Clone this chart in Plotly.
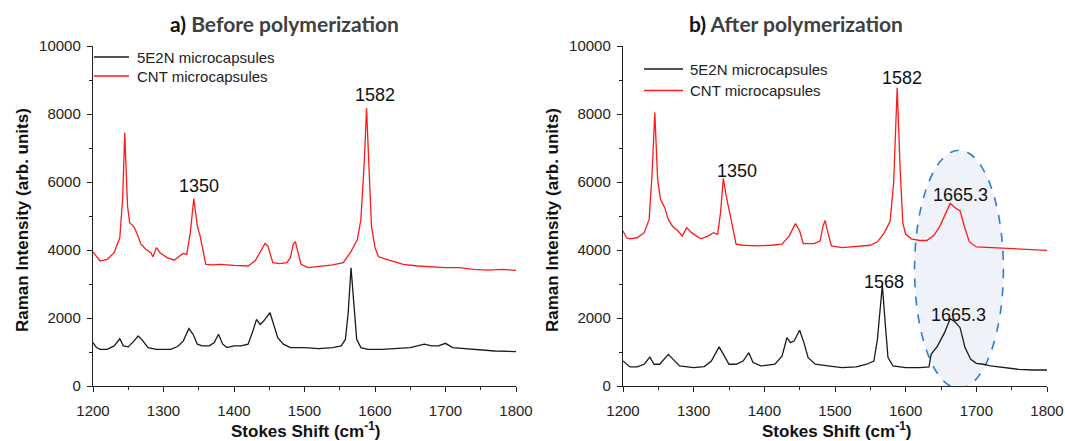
import plotly.graph_objects as go

# ---------------- data ----------------
# Panel a) Before polymerization
a_cnt_x = [1200, 1210, 1220, 1230, 1238, 1242, 1245, 1249, 1252, 1258, 1262, 1268, 1275, 1282, 1285,
           1290, 1295, 1305, 1315, 1322, 1328, 1333, 1338, 1343, 1348, 1352, 1356, 1360, 1370, 1380,
           1400, 1420, 1430, 1437, 1444, 1448, 1455, 1465, 1475, 1480, 1484, 1487, 1491, 1495, 1505,
           1520, 1540, 1555, 1565, 1575, 1580, 1585, 1588, 1591, 1595, 1600, 1605, 1620, 1640, 1660,
           1680, 1700, 1720, 1740, 1760, 1780, 1800]
a_cnt_y = [3941, 3676, 3725, 3920, 4360, 5490, 7450, 5290, 4800, 4680, 4510, 4170, 4020, 3920, 3800,
           4070, 3920, 3775, 3700, 3820, 3900, 3870, 4510, 5510, 4700, 4410, 4020, 3580, 3560, 3580,
           3550, 3530, 3680, 3920, 4190, 4120, 3630, 3600, 3630, 3775, 4170, 4245, 3920, 3580, 3480,
           3510, 3560, 3630, 3920, 4310, 4900, 6670, 8170, 6670, 4700, 4070, 3800, 3700, 3580, 3530,
           3500, 3480, 3480, 3430, 3410, 3430, 3400]

a_5e2n_x = [1200, 1205, 1210, 1220, 1230, 1238, 1243, 1250, 1258, 1264, 1270, 1278, 1290, 1310, 1320,
            1328, 1336, 1342, 1348, 1355, 1365, 1372, 1378, 1384, 1390, 1400, 1410, 1420, 1426, 1432,
            1437, 1442, 1451, 1457, 1462, 1470, 1480, 1500, 1520, 1540, 1552, 1558, 1562, 1566, 1570,
            1574, 1580, 1590, 1610, 1630, 1650, 1670, 1680, 1690, 1700, 1710, 1730, 1750, 1770, 1800]
a_5e2n_y = [1275, 1130, 1080, 1080, 1180, 1390, 1180, 1150, 1320, 1470, 1350, 1130, 1080, 1080, 1160,
            1320, 1690, 1520, 1230, 1180, 1180, 1275, 1520, 1230, 1130, 1180, 1180, 1230, 1570, 1960,
            1810, 1910, 2160, 1720, 1420, 1230, 1130, 1130, 1100, 1130, 1180, 1370, 2160, 3480, 2350,
            1370, 1130, 1080, 1080, 1100, 1130, 1230, 1180, 1180, 1255, 1130, 1100, 1060, 1030, 1010]

# Panel b) After polymerization
b_cnt_x = [1200, 1205, 1210, 1220, 1230, 1237, 1241, 1245, 1249, 1253, 1259, 1264, 1270, 1278, 1284,
           1290, 1297, 1310, 1320, 1328, 1334, 1338, 1342, 1346, 1351, 1356, 1360, 1370, 1390, 1410,
           1425, 1435, 1444, 1450, 1455, 1470, 1479, 1483, 1486, 1490, 1495, 1510, 1530, 1550, 1560,
           1570, 1578, 1583, 1588, 1592, 1596, 1600, 1608, 1620, 1630, 1640, 1648, 1655, 1663, 1670,
           1677, 1683, 1690, 1700, 1720, 1740, 1760, 1780, 1800]
b_cnt_y = [4560, 4360, 4330, 4360, 4510, 4900, 6180, 8040, 6080, 5490, 5245, 4900, 4700, 4560, 4410,
           4660, 4510, 4330, 4410, 4510, 4460, 5100, 6110, 5590, 5100, 4610, 4170, 4140, 4120, 4140,
           4170, 4410, 4775, 4560, 4190, 4190, 4265, 4700, 4870, 4510, 4120, 4070, 4100, 4140, 4240,
           4510, 4850, 5980, 8775, 6470, 4800, 4460, 4330, 4280, 4280, 4430, 4680, 5020, 5370, 5245,
           5150, 4700, 4245, 4090, 4070, 4040, 4040, 4020, 3990]

b_5e2n_x = [1200, 1210, 1220, 1230, 1238, 1244, 1252, 1258, 1264, 1270, 1280, 1300, 1315, 1325, 1336,
            1343, 1350, 1360, 1370, 1378, 1384, 1395, 1415, 1425, 1432, 1437, 1442, 1450, 1456, 1462,
            1472, 1490, 1510, 1530, 1545, 1555, 1560, 1563, 1567, 1571, 1575, 1582, 1600, 1620, 1633,
            1636, 1645, 1655, 1663, 1670, 1677, 1684, 1692, 1700, 1710, 1720, 1740, 1760, 1780, 1800]
b_5e2n_y = [735, 560, 560, 640, 850, 640, 640, 785, 930, 805, 590, 540, 570, 735, 1150,
            900, 640, 640, 735, 980, 690, 590, 640, 880, 1420, 1275, 1320, 1640, 1275, 835,
            640, 590, 540, 560, 640, 735, 1370, 2060, 2960, 1860, 835, 590, 540, 540, 560,
            930, 1175, 1570, 1980, 1880, 1715, 1130, 785, 665, 640, 590, 540, 490, 470, 470]

series_names = ["5E2N microcapsules", "CNT microcapsules"]
series_colors = ["#1a1a1a", "#ff1a1a"]
panel_titles = ["a) ", "Before polymerization", "b) ", "After polymerization"]
x_ticks = [1200, 1300, 1400, 1500, 1600, 1700, 1800]
y_ticks = [0, 2000, 4000, 6000, 8000, 10000]

# peak labels: (text, x, y)
a_peaks = [("1350", 1350, 5870), ("1582", 1600, 8570)]
b_peaks = [("1350", 1361, 6315), ("1582", 1595, 9065), ("1665.3", 1678, 5612),
           ("1568", 1569, 3071), ("1665.3", 1674.5, 2097)]
ellipse_b = dict(x0=1612.6, x1=1738.3, y0=-70, y1=6935)

# ---------------- figure ----------------
W, H = 1065, 441
ML, MR, MT, MB = 0, 0, 46, 55
fig = go.Figure()

line_w = 1.3
fig.add_trace(go.Scatter(x=a_5e2n_x, y=a_5e2n_y, mode="lines", name=series_names[0],
                         line=dict(color=series_colors[0], width=line_w), xaxis="x", yaxis="y"))
fig.add_trace(go.Scatter(x=a_cnt_x, y=a_cnt_y, mode="lines", name=series_names[1],
                         line=dict(color=series_colors[1], width=line_w), xaxis="x", yaxis="y"))
fig.add_trace(go.Scatter(x=b_5e2n_x, y=b_5e2n_y, mode="lines", name=series_names[0],
                         line=dict(color=series_colors[0], width=line_w), xaxis="x2", yaxis="y2"))
fig.add_trace(go.Scatter(x=b_cnt_x, y=b_cnt_y, mode="lines", name=series_names[1],
                         line=dict(color=series_colors[1], width=line_w), xaxis="x2", yaxis="y2"))

def px_x(p):
    return (p - ML) / (W - ML - MR)

def px_y(p):
    return (H - MB - p) / (H - MT - MB)

tickfont = dict(family="Arial, Liberation Sans, sans-serif", size=15, color="#222222")
common_x = dict(range=[1200, 1800], tickvals=x_ticks, ticktext=[str(v) for v in x_ticks],
                showline=True, linecolor="#222222", linewidth=1.4, automargin=False,
                ticks="outside", ticklen=5, tickwidth=1.3, tickcolor="#222222", showgrid=False,
                zeroline=False, tickfont=tickfont, ticklabelstandoff=6,
                minor=dict(dtick=50, tick0=1200, ticks="outside", ticklen=3, tickwidth=1.2, tickcolor="#222222"))
common_y = dict(range=[0, 10000], tickvals=y_ticks, ticktext=[str(v) for v in y_ticks],
                showline=True, linecolor="#222222", linewidth=1.4, automargin=False,
                ticks="outside", ticklen=5, tickwidth=1.3, tickcolor="#222222", showgrid=False,
                zeroline=False, tickfont=tickfont, ticklabelstandoff=3,
                minor=dict(dtick=1000, tick0=0, ticks="outside", ticklen=3, tickwidth=1.2, tickcolor="#222222"))

fig.update_layout(
    width=W, height=H,
    margin=dict(l=ML, r=MR, t=MT, b=MB, autoexpand=False),
    paper_bgcolor="white", plot_bgcolor="white",
    xaxis=dict(domain=[px_x(93), px_x(516)], anchor="y", **common_x),
    yaxis=dict(domain=[0, 1], anchor="x", **common_y),
    xaxis2=dict(domain=[px_x(623), px_x(1047)], anchor="y2", **common_x),
    yaxis2=dict(domain=[0, 1], anchor="x2", **common_y),
    showlegend=False,
)

# ellipse highlight in panel b
fig.add_shape(type="circle", xref="x2", yref="y2", layer="below",
              x0=ellipse_b["x0"], x1=ellipse_b["x1"], y0=ellipse_b["y0"], y1=ellipse_b["y1"],
              line=dict(color="#2e7bd1", width=1.6, dash="dash"), fillcolor="rgba(222,226,242,0.45)")

# legends (drawn per panel): (line x0, line x1, text x, row y positions) in pixels
legend_specs = [(94, 129, 134.5, (57, 76)), (644, 683, 687.7, (69, 90.5))]
legfont = dict(family="Arial, Liberation Sans, sans-serif", size=15, color="#222222")
for lx0, lx1, tx, rows in legend_specs:
    for name, color, ry in zip(series_names, series_colors, rows):
        fig.add_shape(type="line", xref="paper", yref="paper", x0=px_x(lx0), x1=px_x(lx1),
                      y0=px_y(ry), y1=px_y(ry), line=dict(color=color, width=1.5))
        fig.add_annotation(text=name, x=px_x(tx), y=px_y(ry), xref="paper", yref="paper",
                           xanchor="left", yanchor="middle", showarrow=False, font=legfont)

annfont = dict(family="Arial, Liberation Sans, sans-serif", size=18, color="#111111")
for t, x, y in a_peaks:
    fig.add_annotation(text=t, x=x, y=y, xref="x", yref="y", showarrow=False, font=annfont,
                       xanchor="center", yanchor="middle")
for t, x, y in b_peaks:
    fig.add_annotation(text=t, x=x, y=y, xref="x2", yref="y2", showarrow=False, font=annfont,
                       xanchor="center", yanchor="middle")

titlefont = dict(family="Lato, Open Sans, sans-serif", size=21, color="#404040")
for i, xc in enumerate((284, 796)):
    fig.add_annotation(text="<b><span style='color:#111111'>" + panel_titles[2 * i] + "</span>"
                       + panel_titles[2 * i + 1] + "</b>",
                       x=px_x(xc), y=px_y(23.6), xref="paper", yref="paper", showarrow=False,
                       font=titlefont, xanchor="center", yanchor="middle")

axtitlefont = dict(family="Arial, Liberation Sans, sans-serif", size=17, color="#111111")
for xc in (305, 836):
    fig.add_annotation(text="<b>Stokes Shift (cm<sup>-1</sup>)</b>", x=px_x(xc), y=px_y(430),
                       xref="paper", yref="paper", showarrow=False, font=axtitlefont,
                       xanchor="center", yanchor="middle")
for xc in (22, 552):
    fig.add_annotation(text="<b>Raman Intensity (arb. units)</b>", x=px_x(xc), y=px_y(220),
                       xref="paper", yref="paper", showarrow=False, font=axtitlefont, textangle=-90,
                       xanchor="center", yanchor="middle")

fig.write_html("out.html")
